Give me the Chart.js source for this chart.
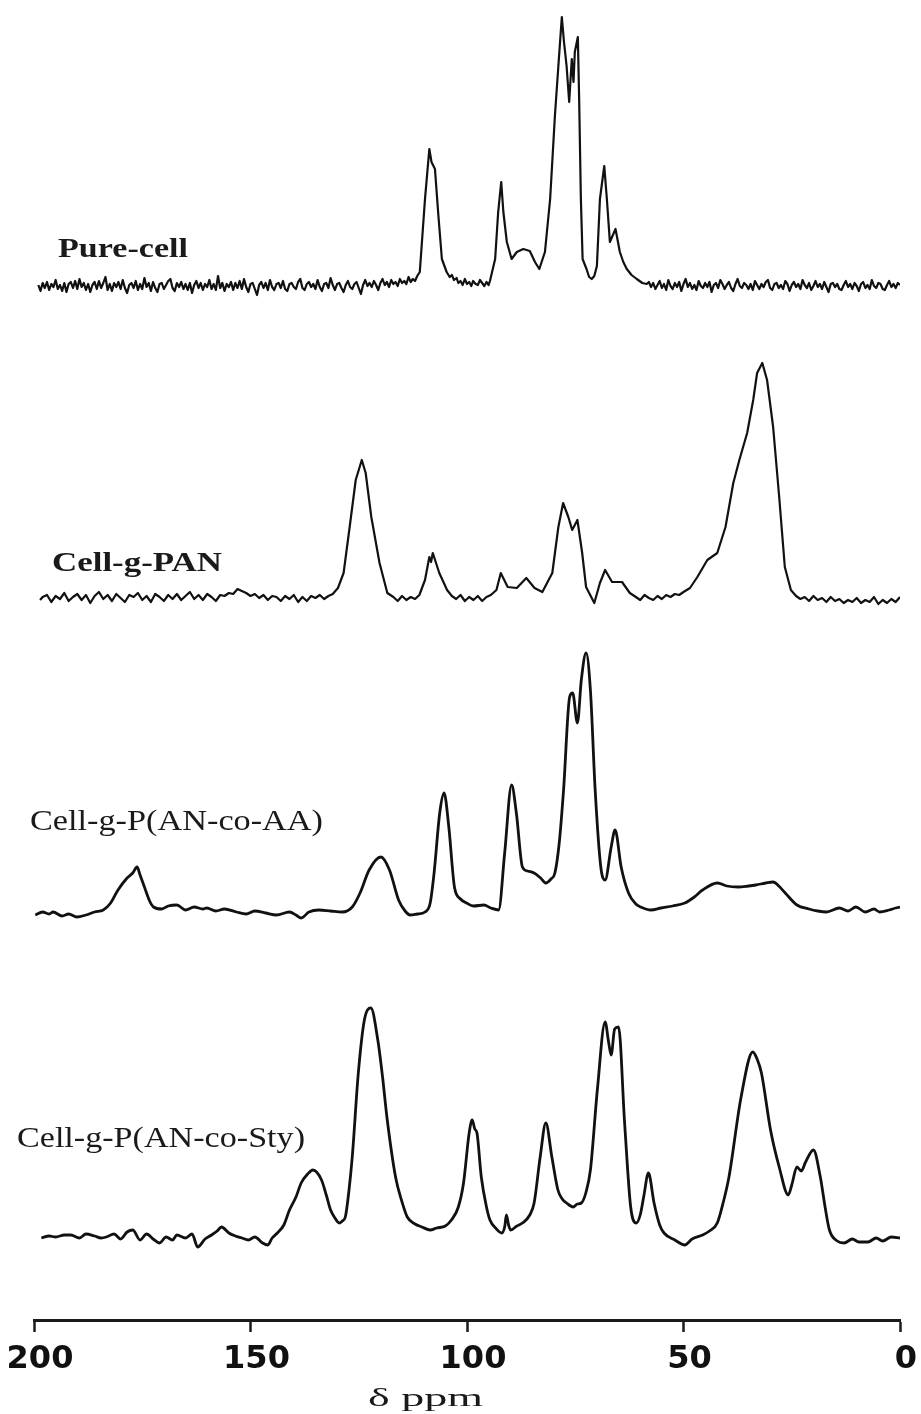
<!DOCTYPE html>
<html>
<head>
<meta charset="utf-8">
<script src="https://cdn.jsdelivr.net/npm/chart.js@4.4.1/dist/chart.umd.min.js"></script>
<style>
html,body{margin:0;padding:0;background:#fff;}
canvas{display:block;}
</style>
</head>
<body>
<canvas id="c" width="921" height="1414"></canvas>
<script>
// ---- data (ppm, intensity above own baseline, arbitrary units) ----
const xTicks = [200, 150, 100, 50, 0];
const axisTitle = 'δ ppm';
const seriesNames = ['Pure-cell', 'Cell-g-PAN', 'Cell-g-P(AN-co-AA)', 'Cell-g-P(AN-co-Sty)'];
const traceOffsets = [1034, 722, 407, 83];

const pureCell = [
[199,1],[198.5,-5],[198,3],[197.5,-2],[197,4],[196.5,-4],[196,2],[195.5,-1],[195,6],[194.5,-3],[194,1],[193.5,-5],[193,3],[192.5,-6],[192,2],[191.5,4],[191,-2],[190.5,5],[190,-3],[189.5,7],[189,-1],[188.5,3],[188,-4],[187.5,2],[187,-6],[186.5,1],[186,4],[185.5,-3],[185,5],[184.5,-2],[184,3],[183.5,9],[183,-4],[182.5,2],[182,-5],[181.5,3],[181,-1],[180.5,4],[180,-3],[179.5,6],[179,-2],[178.5,-7],[178,1],[177.5,3],[177,-2],[176.5,5],[176,-4],[175.5,2],[175,-3],[174.5,8],[174,-1],[173.5,3],[173,-5],[172.5,4],[172,-2],[171.5,-6],[171,2],[170.5,3],[170,-3],[169.5,1],[169,5],[168.5,7],[168,-2],[167.5,-5],[167,3],[166.5,-1],[166,4],[165.5,-3],[165,2],[164.5,-4],[164,3],[163.5,-7],[163,1],[162.5,5],[162,-2],[161.5,3],[161,-4],[160.5,2],[160,-1],[159.5,6],[159,-3],[158.5,2],[158,-4],[157.5,10],[157,-2],[156.5,3],[156,-5],[155.5,2],[155,-1],[154.5,4],[154,-4],[153.5,3],[153,-2],[152.5,5],[152,-3],[151.5,7],[151,-1],[150.5,-6],[150,2],[149.5,3],[149,-3],[148.5,-9],[148,1],[147.5,4],[147,-2],[146.5,3],[146,-4],[145.5,6],[145,-1],[144.5,-4],[144,2],[143.5,3],[143,-2],[142.5,5],[142,-3],[141.5,-5],[141,2],[140.5,3],[140,-1],[139.5,-3],[139,4],[138.5,7],[138,-2],[137.5,-4],[137,2],[136.5,4],[136,-1],[135.5,2],[135,-3],[134.5,6],[134,-1],[133.5,-5],[133,2],[132.5,3],[132,-2],[131.5,8],[131,1],[130.5,-4],[130,2],[129.5,3],[129,-2],[128.5,-6],[128,1],[127.5,5],[127,-1],[126.5,-3],[126,2],[125.5,4],[125,-2],[124.5,-8],[124,1],[123.5,6],[123,0],[122.5,3],[122,-1],[121.5,5],[121,1],[120.5,-4],[120,3],[119.5,7],[119,1],[118.5,4],[118,-1],[117.5,6],[117,2],[116.5,4],[116,0],[115.5,7],[115,3],[114.5,5],[114,2],[113.5,9],[113,4],[112.5,7],[112,5],[111.5,10],
[110.9,14],[109.7,87],[108.7,137],[108.2,124],[107.4,117],[106.6,70],[105.8,27],[104.7,14],[104,9],[103.5,11],[103,6],[102.4,8],[102,3],[101.5,5],[101,1],[100.5,7],[100,2],[99.5,4],[99,0],[98.6,5],[98,2],[97.5,1],[97,6],[96.5,3],[96,0],[95.5,4],[95,1],[94.7,5],[93.5,27],[92.8,74],[92.1,104],[91.6,74],[90.8,44],[89.7,27],[88.5,34],[87.0,37],[85.5,35],[84.3,24],[83.3,17],[82.0,34],[80.8,87],[79.7,170],[78.9,220],[78.1,269],[77.6,244],[77.0,220],[76.4,184],[75.8,227],[75.4,204],[75.1,234],[74.4,249],[74.1,187],[73.7,87],[73.3,27],[72.4,17],[71.8,9],[71.2,7],[70.6,10],[70.0,20],[69.3,87],[68.3,120],[67.7,87],[67.0,44],[65.7,57],[64.7,34],[63.9,24],[63.1,17],[62,11],[60.8,7],[59.5,3],[58.5,2],
[58,4],[57.5,-1],[57,3],[56.5,-3],[56,1],[55.5,5],[55,-2],[54.5,2],[54,-4],[53.5,6],[53,0],[52.5,-3],[52,3],[51.5,-1],[51,4],[50.5,-5],[50,2],[49.5,7],[49,-1],[48.5,3],[48,-3],[47.5,1],[47,-4],[46.5,5],[46,0],[45.5,-2],[45,3],[44.5,-1],[44,4],[43.5,-6],[43,1],[42.5,3],[42,-2],[41.5,6],[41,2],[40.5,-3],[40,1],[39.5,4],[39,-2],[38.5,-5],[38,2],[37.5,7],[37,0],[36.5,-2],[36,3],[35.5,1],[35,-3],[34.5,2],[34,-4],[33.5,5],[33,1],[32.5,-3],[32,2],[31.5,-1],[31,4],[30.5,6],[30,-2],[29.5,-4],[29,2],[28.5,3],[28,-2],[27.5,1],[27,-3],[26.5,5],[26,2],[25.5,-5],[25,1],[24.5,4],[24,-1],[23.5,2],[23,-3],[22.5,6],[22,1],[21.5,-2],[21,3],[20.5,-4],[20,0],[19.5,5],[19,-1],[18.5,2],[18,-3],[17.5,4],[17,-1],[16.5,-6],[16,2],[15.5,3],[15,-1],[14.5,2],[14,-3],[13.5,-4],[13,1],[12.5,5],[12,-1],[11.5,2],[11,-3],[10.5,3],[10,0],[9.5,-5],[9,2],[8.5,4],[8,-2],[7.5,1],[7,-3],[6.5,6],[6,0],[5.5,-2],[5,3],[4.5,2],[4,-3],[3.5,-4],[3,1],[2.5,5],[2,-1],[1.5,2],[1,-2],[0.5,3],[0,1]
];

const cellPAN = [
[198.6,-2],[198,1],[197,3],[196,-4],[195,2],[194,-1],[193,5],[192,-3],[191,1],[190,4],[189,-2],[188,3],[187,-5],[186,2],[185,6],[184,-1],[183,3],[182,-3],[181,4],[180,0],[179,-4],[178,3],[177,1],[176,5],[175,-2],[174,2],[173,-4],[172,4],[171,1],[170,-3],[169,3],[168,-1],[167,4],[166,-2],[165,2],[164,6],[163,-1],[162,3],[161,-2],[160,4],[159,1],[158,-3],[157,3],[156,2],[155,5],[154,4],[153,9],[152,7],[151,5],[150,2],[149,4],[148,0],[147,3],[146,-2],[145,2],[144,1],[143,-3],[142,2],[141,-1],[140,3],[139,-4],[138,1],[137,-3],[136,2],[135,0],[134,3],[133,-1],[132,2],[131,4],
[129.8,10],[128.5,25],[127.1,71],[125.7,118],[124.3,138],[123.4,125],[122.1,81],[120.2,35],[118.4,5],[117,1],[116,-3],[115,2],[114,-2],[113,1],[112,-1],[111,3],[109.7,18],[108.7,41],[108.3,36],[107.9,45],[106.4,25],[104.6,8],[103.5,2],[102.5,-1],[101.5,3],[100.5,-3],[99.5,1],[98.5,-2],[97.5,2],[96.5,-3],[95.5,1],[94.5,3],[93.2,8],[92.2,25],[91.4,18],[90.6,11],[88.5,10],[86.3,20],[84.4,10],[82.6,6],[80.3,25],[78.9,71],[77.8,95],[76.6,81],[75.7,68],[74.5,78],[73.4,45],[72.5,11],[70.6,-5],[69.3,15],[68.1,28],[66.5,16],[64.2,16],[62.4,5],
[61,1],[60,-2],[59,3],[58,0],[57,-2],[56,2],[55,-1],[54,3],[53,1],[52,4],[51,3],[50,6],[48.5,10],[46.8,21],[44.5,38],[42.2,45],[40.3,71],[38.5,115],[37.1,138],[35.3,165],[33.9,198],[33.0,225],[31.8,235],[30.7,218],[29.3,171],[27.9,101],[26.6,31],[25.2,8],
[24,2],[23,-1],[22,1],[21,-3],[20,2],[19,-2],[18,0],[17,-4],[16,1],[15,-3],[14,-1],[13,-5],[12,-2],[11,-4],[10,0],[9,-5],[8,-2],[7,-4],[6,1],[5,-6],[4,-2],[3,-5],[2,-1],[1,-4],[0,1]
];

const cellAA = [
[199.7,-2],[198,1],[196.5,-1],[195.6,1],[193.5,-3],[192,-1],[190.1,-4],[188,-2],[186,1],[184,3],[182.3,10],[180.6,23],[178.5,35],[177.2,40],[176.2,46],[175.5,38],[174.5,26],[173.3,12],[172.4,6],[170.5,4],[169,7],[167,8],[165,3],[163,6],[161,4],[160.1,5],[158,2],[156,4],[153.3,1],[151,-1],[149,2],[146.5,0],[144,-2],[141,1],[139.5,-2],[138.3,-5],[136.5,1],[134.2,3],[131.5,2],[128.8,1],[126.5,6],[124.7,20],[122.6,43],[119.9,56],[117.9,43],[115.8,13],[114.3,2],[113.1,-2],[111.5,-1],[109.7,1],[108.5,10],[107.6,40],[106.3,100],[105.3,120],[104.2,86],[102.9,26],[101.5,14],[100.1,10],[98.5,7],[96.1,8],[94.5,5],[92.7,3],[91.3,60],[89.7,128],[88.6,100],[87.2,46],[86,42],[84.5,40],[83,35],[81.8,30],[80.6,34],[79.7,40],[78.7,70],[77.7,123],[76.3,216],[75.6,220],[74.5,190],[73.6,233],[72.5,260],[71.5,223],[70.4,123],[69.1,46],[68.1,33],[66.7,66],[65.8,83],[64.4,46],[62.7,20],[61,9],[59.9,6],[57.5,3],[55.2,5],[52.5,7],[49.7,10],[47.5,16],[45.6,23],[42.2,30],[40,27],[37.4,26],[35,27],[33.3,28],[31,30],[29.3,31],[28,27],[26.5,20],[23.8,8],[21,4],[19,2],[17,1],[14,5],[12,2],[10.2,6],[8,1],[6,4],[4.7,1],[2.5,3],[1,5],[0,6]
];

const cellSty = [
[198.3,-1],[196.5,1],[195,0],[193,2],[191.5,2],[189.5,-1],[188,3],[186,1],[184.5,-1],[183.3,0],[181.5,3],[180,-2],[178.5,5],[177.2,7],[175.5,-3],[174,3],[172.5,-2],[171,-6],[169.5,0],[168,-3],[167,2],[165,-1],[163.5,3],[162.2,-10],[160.5,-2],[159,2],[157.7,6],[156.7,10],[155,4],[153.5,1],[152,-1],[150.5,-3],[149,0],[147.2,-6],[146,-8],[145,-1],[143.8,4],[142.3,12],[141,27],[139.5,40],[138.3,54],[136.8,63],[135.6,67],[133.6,57],[132.5,42],[131.5,27],[130.5,19],[129.5,14],[128.8,16],[128.1,20],[127.3,45],[126.5,80],[125.1,164],[123.7,217],[122.2,229],[120.6,197],[119.5,160],[118.5,120],[116.5,60],[115,35],[113.8,20],[112,13],[110.4,10],[108.5,7],[107,9],[105,11],[103.6,17],[102,30],[100.8,54],[99.5,104],[98.8,117],[98.2,108],[97.7,104],[96.7,60],[95.5,30],[94.7,17],[93.2,8],[92,4],[91.3,10],[90.9,22],[90.4,12],[89.9,7],[88.5,11],[87.2,14],[85.5,22],[84.5,34],[83.1,80],[81.8,114],[80.4,80],[79,47],[78,38],[77,34],[75.5,30],[74.5,33],[73.6,34],[72.5,45],[71.5,67],[69.9,147],[68.1,215],[67.3,195],[66.7,182],[65.9,208],[65,210],[63.6,114],[62.2,30],[60.9,14],[60,22],[59.2,40],[58.1,64],[56.8,34],[55.5,12],[54.5,4],[52,-3],[49.7,-8],[48,-2],[45.6,2],[44,6],[42.2,14],[40.8,35],[39.5,60],[36.7,140],[34,185],[33,178],[32,164],[29.9,107],[27.9,70],[25.8,42],[25,52],[23.8,70],[22.8,66],[21.8,75],[20,87],[18.4,60],[17.3,30],[16.3,7],[14.5,-4],[12.9,-6],[11,-2],[9.5,-5],[7.4,-5],[5.5,-1],[4,-4],[2,0],[0,-1]
];

// ---- build chart ----
const traces = [pureCell, cellPAN, cellAA, cellSty];
const lineWidths = [2.2, 2.2, 2.8, 2.8];
const datasets = traces.map((t, i) => ({
  label: seriesNames[i],
  data: t.map(p => ({x: p[0], y: traceOffsets[i] + p[1]})),
  borderColor: '#111',
  borderWidth: lineWidths[i],
  pointRadius: 0,
  fill: false,
  tension: 0,
  cubicInterpolationMode: i >= 2 ? 'monotone' : 'default',
  borderJoinStyle: 'round'
}));

const textPlugin = {
  id: 'texts',
  afterDraw(chart) {
    const ctx = chart.ctx;
    const items = [
      {text: seriesNames[0], left: 58, baseline: 257, width: 130, font: 'bold 27px "Liberation Serif"'},
      {text: seriesNames[1], left: 52, baseline: 571, width: 170, font: 'bold 27px "Liberation Serif"'},
      {text: seriesNames[2], left: 30, baseline: 830, width: 293, font: '29px "Liberation Serif"'},
      {text: seriesNames[3], left: 17, baseline: 1147, width: 288, font: '29px "Liberation Serif"'},
      {text: axisTitle, left: 368, baseline: 1406, width: 115, font: '25px "Liberation Serif"'}
    ];
    items.forEach(it => {
      ctx.save();
      ctx.font = it.font;
      ctx.fillStyle = '#1a1a1a';
      ctx.textBaseline = 'alphabetic';
      ctx.textAlign = 'left';
      const w = ctx.measureText(it.text).width;
      ctx.translate(it.left, it.baseline);
      ctx.scale(it.width / w, 1);
      ctx.fillText(it.text, 0, 0);
      ctx.restore();
    });
  }
};

new Chart(document.getElementById('c'), {
  type: 'line',
  data: {datasets},
  options: {
    responsive: false,
    devicePixelRatio: 1,
    animation: false,
    layout: {padding: {left: 34, right: 21, top: 0, bottom: 0}},
    plugins: {legend: {display: false}, tooltip: {enabled: false}, title: {display: false}},
    scales: {
      x: {
        type: 'linear',
        reverse: true,
        min: 0,
        max: 200,
        position: 'bottom',
        afterBuildTicks: s => { s.ticks = xTicks.map(v => ({value: v})); },
        afterFit: s => { s.height = 94; s.paddingLeft = 0; s.paddingRight = 0; },
        border: {display: true, color: '#1a1a1a', width: 3},
        grid: {drawOnChartArea: false, drawTicks: true, tickLength: 12, tickWidth: 2.5, tickColor: '#1a1a1a'},
        ticks: {color: '#111', font: {family: 'DejaVu Sans', weight: 'bold', size: 32}, padding: 8, labelOffset: 6, maxRotation: 0, autoSkip: false}
      },
      y: {display: false, min: 0, max: 1320}
    }
  },
  plugins: [textPlugin]
});
</script>
</body>
</html>
